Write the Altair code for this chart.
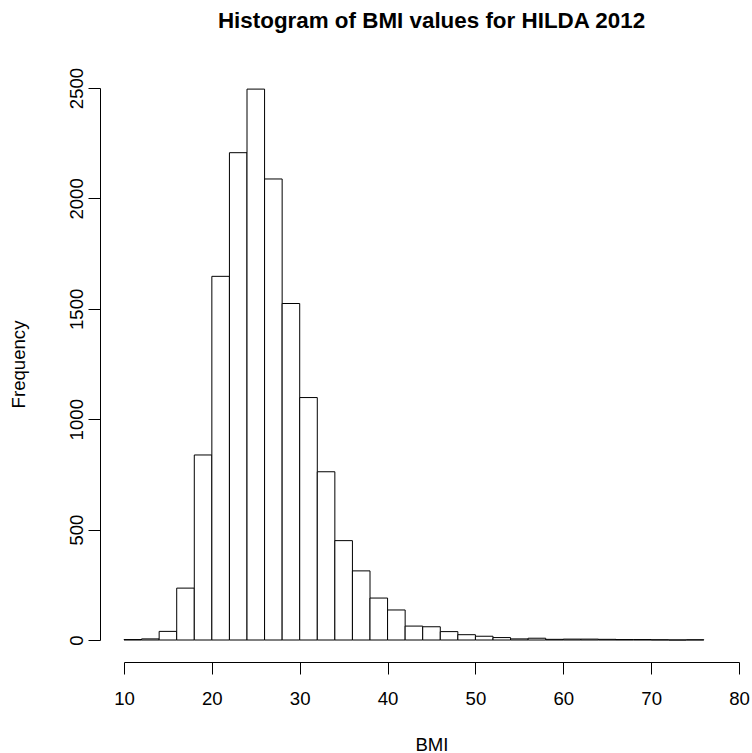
import altair as alt
import pandas as pd

# BMI histogram: bin edges (width 2) and counts per bin
bin_starts = [10, 12, 14, 16, 18, 20, 22, 24, 26, 28, 30, 32, 34, 36, 38, 40, 42,
              44, 46, 48, 50, 52, 54, 56, 58, 60, 62, 64, 66, 68, 70, 72, 74]
bin_width = 2
counts = [2, 5, 39, 235, 838, 1647, 2207, 2495, 2088, 1524, 1098, 762, 450, 313, 190, 136, 63,
          60, 38, 24, 17, 11, 5, 8, 3, 4, 4, 3, 2, 2, 1, 0, 1]

x_ticks = [10, 20, 30, 40, 50, 60, 70, 80]
y_ticks = [0, 500, 1000, 1500, 2000, 2500]

df = pd.DataFrame({
    "start": bin_starts,
    "end": [s + bin_width for s in bin_starts],
    "count": counts,
})

FONT = "Liberation Sans"

bars = alt.Chart(df).mark_rect(
    fill="white", stroke="black", strokeWidth=1
).encode(
    x=alt.X(
        "start:Q",
        scale=alt.Scale(domain=[10, 80], nice=False, zero=False),
        axis=alt.Axis(
            title="BMI", values=x_ticks, format="d", grid=False, offset=22,
            domainColor="black", domainWidth=1, tickColor="black", tickSize=12, tickWidth=1,
            labelFont=FONT, labelFontSize=18.6, labelColor="black",
            labelBaseline="alphabetic", labelPadding=30, labelFlush=False,
            titleFont=FONT, titleFontSize=18.6, titleFontWeight="normal", titleColor="black",
            titleBaseline="alphabetic", titleX=307.5, titleY=88, titleAlign="center",
        ),
    ),
    x2="end:Q",
    y=alt.Y(
        "count:Q",
        scale=alt.Scale(domain=[0, 2500], nice=False),
        axis=alt.Axis(
            title="Frequency", values=y_ticks, format="d", grid=False, offset=24,
            domainColor="black", domainWidth=1, tickColor="black", tickSize=12, tickWidth=1,
            labelFont=FONT, labelFontSize=18.6, labelColor="black", labelAngle=270,
            labelAlign="center", labelBaseline="alphabetic", labelPadding=6, labelFlush=False,
            titleFont=FONT, titleFontSize=18.6, titleFontWeight="normal", titleColor="black",
            titleAngle=270, titleAlign="center", titleBaseline="alphabetic",
            titleX=-76, titleY=276,
        ),
    ),
    y2=alt.datum(0),
)

chart = bars.properties(
    width=615,
    height=552,
    title=alt.TitleParams(
        "Histogram of BMI values for HILDA 2012",
        font=FONT, fontSize=22.4, fontWeight="bold", color="black",
        anchor="middle", frame="group", baseline="alphabetic", offset=17,
    ),
    autosize=alt.AutoSizeParams(type="none"),
    padding={"left": 124, "top": 88, "right": 13, "bottom": 113},
    background="white",
).configure_view(stroke=None)

chart.save("out.html", embed_options={"renderer": "svg", "actions": False})
